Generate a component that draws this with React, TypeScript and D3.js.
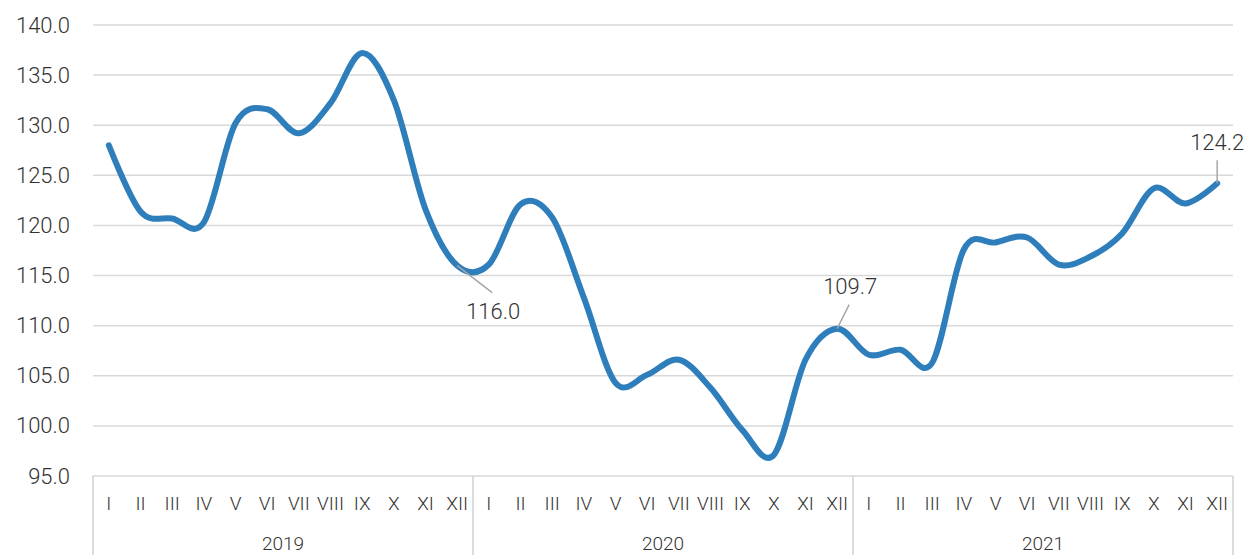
import React from "react";
import * as d3 from "d3";

// months shown under each point
const months = ["I", "II", "III", "IV", "V", "VI", "VII", "VIII", "IX", "X", "XI", "XII"];
const years = ["2019", "2020", "2021"];

// index values, Jan 2019 .. Dec 2021
const values2019 = [128.0, 121.4, 120.7, 120.3, 130.2, 131.6, 129.2, 132.2, 137.2, 132.5, 121.6, 116.0];
const values2020 = [116.1, 122.1, 120.8, 112.8, 104.3, 105.1, 106.6, 103.8, 99.6, 97.1, 106.6, 109.7];
const values2021 = [107.1, 107.6, 106.3, 117.6, 118.3, 118.8, 116.1, 116.9, 119.2, 123.7, 122.2, 124.2];

const yTicks = [95, 100, 105, 110, 115, 120, 125, 130, 135, 140];

// which points get a value label
const labelled = [11, 23, 35];

const width = 1248;
const height = 555;
const margin = { top: 25, right: 15, bottom: 79, left: 93 };

const App: React.FC = () => {
  const series = [...values2019, ...values2020, ...values2021];
  const cats = years.flatMap((y) => months.map((m) => `${y}-${m}`));

  const x = d3
    .scaleBand<string>()
    .domain(cats)
    .range([margin.left, width - margin.right]);

  const y = d3
    .scaleLinear()
    .domain([95, 140])
    .range([height - margin.bottom, margin.top]);

  const cx = (i: number) => (x(cats[i]) as number) + x.bandwidth() / 2;

  const line = d3
    .line<number>()
    .x((_, i) => cx(i))
    .y((d) => y(d))
    .curve(d3.curveCardinal.tension(0));

  const yearWidth = x.bandwidth() * months.length;
  const axisY = y(95);

  // label placement relative to the point: text centre and leader end
  const labelPos: Record<number, { tx: number; ty: number; lx: number; ly: number }> = {
    11: { tx: 36, ty: 46, lx: 35, ly: 27 },
    23: { tx: 13, ty: -42, lx: 12, ly: -24 },
    35: { tx: 0, ty: -41, lx: 0, ly: -23 },
  };

  const textColor = "#333333";
  const font = "Roboto, 'Noto Sans', sans-serif";

  return (
    <svg
      width={width}
      height={height}
      style={{ position: "absolute", left: 0, top: 0, background: "#fff" }}
    >
      {/* grid */}
      {yTicks.map((t) => (
        <g key={t}>
          <line
            x1={margin.left}
            x2={width - margin.right}
            y1={y(t)}
            y2={y(t)}
            stroke="#d9d9d9"
            strokeWidth={1.5}
          />
          <text
            x={70}
            y={y(t)}
            textAnchor="end"
            dominantBaseline="central"
            fontFamily={font}
            fontWeight={300}
            fontSize={22}
            fill={textColor}
          >
            {t.toFixed(1)}
          </text>
        </g>
      ))}

      {/* category axis: year separators */}
      {d3.range(years.length + 1).map((k) => (
        <line
          key={k}
          x1={margin.left + k * yearWidth}
          x2={margin.left + k * yearWidth}
          y1={axisY}
          y2={height}
          stroke="#d0d0d0"
          strokeWidth={1.5}
        />
      ))}

      {cats.map((c, i) => (
        <text
          key={c}
          x={cx(i)}
          y={503}
          textAnchor="middle"
          dominantBaseline="central"
          fontFamily={font}
          fontWeight={300}
          fontSize={19}
          fill={textColor}
        >
          {months[i % 12]}
        </text>
      ))}

      {years.map((yr, k) => (
        <text
          key={yr}
          x={margin.left + (k + 0.5) * yearWidth}
          y={543}
          textAnchor="middle"
          dominantBaseline="central"
          fontFamily={font}
          fontWeight={300}
          fontSize={19}
          fill={textColor}
        >
          {yr}
        </text>
      ))}

      {/* series */}
      <path
        d={line(series) || ""}
        fill="none"
        stroke="#2e7ebc"
        strokeWidth={6}
        strokeLinecap="round"
        strokeLinejoin="round"
      />

      {/* value labels */}
      {labelled.map((i) => {
        const px = cx(i);
        const py = y(series[i]);
        const p = labelPos[i];
        return (
          <g key={i}>
            <line x1={px} y1={py} x2={px + p.lx} y2={py + p.ly} stroke="#a6a6a6" strokeWidth={1.5} />
            <text
              x={px + p.tx}
              y={py + p.ty}
              textAnchor="middle"
              dominantBaseline="central"
              fontFamily={font}
              fontWeight={300}
              fontSize={22}
              fill={textColor}
            >
              {series[i].toFixed(1)}
            </text>
          </g>
        );
      })}
    </svg>
  );
};

export default App;
